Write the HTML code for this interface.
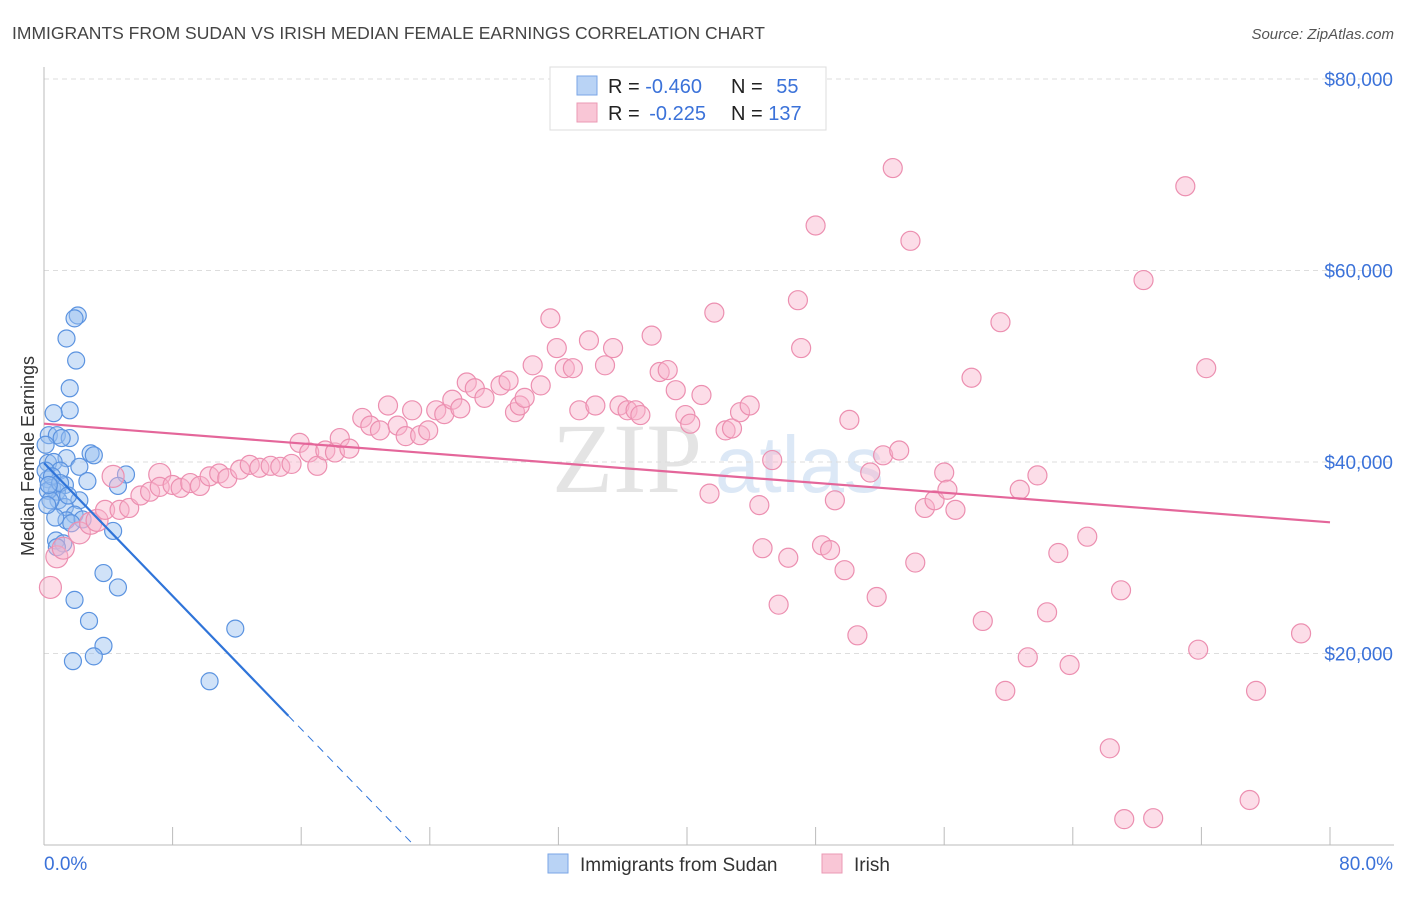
<!DOCTYPE html>
<html><head><meta charset="utf-8"><style>
body{margin:0;background:#fff;font-family:"Liberation Sans",sans-serif;}
svg text{font-family:"Liberation Sans",sans-serif;}
</style></head><body>
<svg id="chart" width="1406" height="892" viewBox="0 0 1406 892" xmlns="http://www.w3.org/2000/svg">
<text x="12" y="39" font-size="17.5" fill="#444">IMMIGRANTS FROM SUDAN VS IRISH MEDIAN FEMALE EARNINGS CORRELATION CHART</text>
<text x="1394" y="39" font-size="15" fill="#555" text-anchor="end" font-style="italic">Source: ZipAtlas.com</text>
<g>
<text x="552" y="492" font-size="100" fill="#e4e4e4" font-family="Liberation Serif" style="font-family:'Liberation Serif',serif">ZIP</text>
<text x="715" y="492" font-size="80" fill="#dce8f6">atlas</text>
</g>
<g id="grid"></g>
<g id="axes"></g>
<g id="blue"></g>
<g id="pink"></g>
<g id="lines"></g>
<text transform="translate(34,456) rotate(-90)" font-size="18" fill="#333" text-anchor="middle">Median Female Earnings</text>
<text x="44" y="870" font-size="19" fill="#3b72d9">0.0%</text>
<text x="1393" y="870" font-size="19" fill="#3b72d9" text-anchor="end">80.0%</text>
<g>
<rect x="550" y="67" width="276" height="63" fill="#fff" stroke="#ddd"/>
<rect x="577" y="76" width="20" height="19" fill="#b9d3f5" stroke="#7aa6e6"/>
<rect x="577" y="103" width="20" height="19" fill="#f9c6d6" stroke="#eb9ab4"/>
<text x="608" y="93" font-size="20" fill="#222">R = <tspan fill="#3b72d9">-0.460</tspan></text>
<text x="731" y="93" font-size="20" fill="#222">N = <tspan fill="#3b72d9" dx="8">55</tspan></text>
<text x="608" y="120" font-size="20" fill="#222">R = <tspan fill="#3b72d9" dx="4">-0.225</tspan></text>
<text x="731" y="120" font-size="20" fill="#222">N = <tspan fill="#3b72d9">137</tspan></text>
</g>
<g>
<rect x="548" y="854" width="20" height="19" fill="#b9d3f5" stroke="#7aa6e6"/>
<text x="580" y="871" font-size="19" fill="#333">Immigrants from Sudan</text>
<rect x="822" y="854" width="20" height="19" fill="#f9c6d6" stroke="#eb9ab4"/>
<text x="854" y="871" font-size="19" fill="#333">Irish</text>
</g>
</svg>
<script>
const yTicks=[20000,40000,60000,80000];
const yTickLabels=["$20,000","$40,000","$60,000","$80,000"];
const xTicks=[0,8,16,24,32,40,48,56,64,72,80];
const blueX=[2.1,1.9,1.4,2.0,1.6,1.6,0.6,0.3,0.8,1.6,1.1,2.9,3.1,1.4,0.25,0.6,2.2,1.0,5.1,0.25,2.7,1.3,4.6,0.5,0.8,2.2,0.9,1.3,1.9,1.4,4.3,0.75,1.2,0.8,3.7,4.6,1.9,2.8,3.7,3.1,1.8,11.9,10.3,0.1,0.1,0.25,0.4,0.5,1.0,1.5,0.3,2.4,0.7,1.7,0.2];
const blueY=[55300,55000,52900,50600,47700,45400,45100,42800,42800,42500,42500,40900,40700,40400,39900,40000,39500,39100,38700,38200,38000,37600,37500,37300,36900,36000,36000,35300,34500,33900,32800,31800,31500,31100,28400,26900,25600,23400,20800,19700,19200,22600,17100,41800,39100,37000,36000,38500,37800,36500,37600,34000,34200,33600,35500];
const pinkX=[0.4,0.8,1.2,2.2,2.9,3.3,4.3,7.2,3.8,4.7,5.3,6.0,6.6,7.2,8.0,8.5,9.1,9.7,10.3,10.9,11.4,12.2,12.8,13.4,14.1,14.7,15.4,15.9,16.5,17.0,17.5,18.1,18.4,19.0,19.8,20.3,20.9,21.4,22.0,22.5,22.9,23.4,23.9,24.4,24.9,25.4,25.9,26.3,26.8,27.4,28.4,28.9,29.3,29.6,29.9,30.4,30.9,31.5,31.9,32.4,32.9,33.3,33.9,34.3,34.9,35.4,35.8,36.3,36.8,37.1,37.8,38.3,38.8,39.3,39.9,40.2,40.9,41.4,41.7,42.4,42.8,43.3,43.9,44.5,44.7,45.3,45.7,46.3,46.9,47.1,48.0,48.4,48.9,49.2,49.8,50.1,50.6,51.4,51.8,52.2,52.8,53.2,53.9,54.2,54.8,55.4,56.0,56.2,56.7,57.7,58.4,59.5,59.8,60.7,61.2,61.8,62.4,63.1,63.8,64.9,66.3,67.0,67.2,68.4,69.0,71.0,71.8,72.3,75.0,75.4,78.2];
const pinkY=[26900,30100,31000,32600,33600,33900,38500,38700,35000,35000,35200,36500,36900,37400,37600,37300,37800,37500,38500,38800,38300,39200,39700,39400,39600,39500,39800,42000,41000,39600,41200,41000,42500,41400,44600,43800,43300,45900,43800,42700,45400,42800,43300,45400,45000,46500,45600,48300,47700,46700,48000,48500,45200,45900,46700,50100,48000,55000,51900,49800,49800,45400,52700,45900,50100,51900,45900,45400,45400,44900,53200,49400,49600,47500,44900,44000,47000,36700,55600,43300,43500,45200,45900,35500,31000,40200,25100,30000,56900,51900,64700,31300,30800,36000,28700,44400,21900,38900,25900,40700,70700,41200,63100,29500,35200,36000,38900,37100,35000,48800,23400,54600,16100,37100,19600,38600,24300,30500,18800,32200,10100,26600,2700,59000,2800,68800,20400,49800,4700,16100,22100];
const blueTrend=[0,39900,15.2,13500,23.0,0];
const pinkTrend=[0,44000,80,33700];
const NS="http://www.w3.org/2000/svg";
const X0=44,X1=1330,Y0=845,YTOP=79;
const sx=v=>X0+(v/80)*(X1-X0);
const sy=v=>Y0-(v/80000)*(Y0-YTOP);
function mk(tag,attrs,parent){const e=document.createElementNS(NS,tag);for(const k in attrs)e.setAttribute(k,attrs[k]);parent.appendChild(e);return e;}
const grid=document.getElementById('grid'),axes=document.getElementById('axes');
yTicks.forEach((t,i)=>{
 const l=mk('line',{x1:X0,x2:1394,y1:sy(t),y2:sy(t),stroke:'#ddd','stroke-dasharray':'5,4'},grid);
 
 
 const tx=mk('text',{x:1393,y:sy(t)+7,'font-size':19,fill:'#3b72d9','text-anchor':'end'},axes);
 tx.textContent=yTickLabels[i];
 
 
});
const ax=mk('line',{x1:X0,x2:X0,y1:67,y2:Y0,stroke:'#bbb'},axes);


const bx=mk('line',{x1:X0,x2:1394,y1:Y0,y2:Y0,stroke:'#bbb'},axes);


xTicks.forEach(t=>{
 const tk=mk('line',{x1:sx(t),x2:sx(t),y1:Y0,y2:Y0-18,stroke:'#bbb'},axes);
 
 
});
const bg=document.getElementById('blue');
blueX.forEach((v,i)=>{
 const c=mk('circle',{cx:sx(v),cy:sy(blueY[i]),r:8.5,fill:'rgba(150,190,240,0.45)',stroke:'#5b93e0','stroke-width':1.2},bg);
 
 
});
const pg=document.getElementById('pink');
pinkX.forEach((v,i)=>{
 const c=mk('circle',{cx:sx(v),cy:sy(pinkY[i]),r:i<8?11:9.5,fill:'rgba(248,180,205,0.45)',stroke:'#ec8fb0','stroke-width':1.2},pg);
 
 
});
const lg=document.getElementById('lines');
const b1=mk('line',{x1:sx(blueTrend[0]),y1:sy(blueTrend[1]),x2:sx(blueTrend[2]),y2:sy(blueTrend[3]),stroke:'#2f74d9','stroke-width':2.2},lg);


const b2=mk('line',{x1:sx(blueTrend[2]),y1:sy(blueTrend[3]),x2:sx(blueTrend[4]),y2:sy(blueTrend[5]),stroke:'#2f74d9','stroke-width':1,'stroke-dasharray':'8,6'},lg);


const p1=mk('line',{x1:sx(pinkTrend[0]),y1:sy(pinkTrend[1]),x2:sx(pinkTrend[2]),y2:sy(pinkTrend[3]),stroke:'#e4669a','stroke-width':2.2},lg);


</script>
</body></html>
